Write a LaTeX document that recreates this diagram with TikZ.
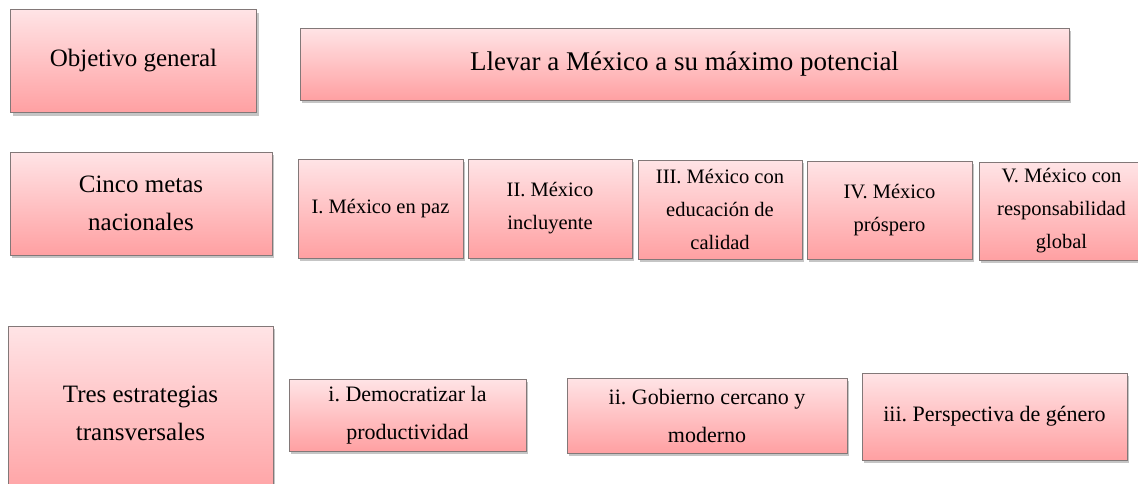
\documentclass[tikz,border=0pt]{standalone}
\usepackage{fontspec}
\setmainfont{Liberation Serif}
\frenchspacing
\usetikzlibrary{shadows,positioning}
\definecolor{rosaclaro}{RGB}{255,228,230}
\definecolor{rosaoscuro}{RGB}{255,160,162}
\definecolor{borde}{RGB}{130,120,120}

\tikzset{
  caja/.style={rectangle, draw=borde, line width=0.9pt, top color=rosaclaro,
    bottom color=rosaoscuro, align=center, inner sep=1pt,
    drop shadow={shadow xshift=2pt, shadow yshift=-3pt, opacity=0.45}},
  grande/.style={caja, font=\fontsize{25}{38}\selectfont},
  mediana/.style={caja, font=\fontsize{20.5}{33}\selectfont},
}

\begin{document}
\begin{tikzpicture}[x=1pt,y=-1pt]
  \clip (0,0) rectangle (1138,483);
  \fill[white] (0,0) rectangle (1138,483);
% Objetivo general
  \node[grande, minimum width=246pt, minimum height=103pt] (objetivo) at (133.5,61) {Objetivo general};
  \node[grande, font=\fontsize{27}{38}\selectfont, minimum width=769pt, minimum height=72pt] (potencial) at (684.5,64) {Llevar a México a su máximo potencial};
% Cinco metas nacionales
  \node[grande, minimum width=262pt, minimum height=103pt] (metas) at (141,203.5) {Cinco metas\\nacionales};
  \node[mediana, minimum width=165pt, minimum height=99pt] (meta1) at (380.5,208.5) {I. México en paz};
  \node[mediana, minimum width=164pt, minimum height=99pt] (meta2) at (550,208.5) {II. México\\incluyente};
  \node[mediana, minimum width=164pt, minimum height=99pt] (meta3) at (720,209.5) {III. México con\\educación de\\calidad};
  \node[mediana, minimum width=165pt, minimum height=98pt] (meta4) at (889.5,210) {IV. México\\próspero};
  \node[mediana, minimum width=165pt, minimum height=98pt] (meta5) at (1061.5,211) {V. México con\\responsabilidad\\global};
% Tres estrategias transversales
  \node[grande, minimum width=265pt, minimum height=175pt] (estrategias) at (140.5,413.5) {Tres estrategias\\transversales};
  \node[mediana, font=\fontsize{22}{38}\selectfont, minimum width=237pt, minimum height=72pt] (estr1) at (407.5,415) {i. Democratizar la\\productividad};
  \node[mediana, font=\fontsize{22}{38}\selectfont, minimum width=280pt, minimum height=75pt] (estr2) at (707,415.5) {ii. Gobierno cercano y\\moderno};
  \node[mediana, font=\fontsize{22}{38}\selectfont, minimum width=265pt, minimum height=87pt] (estr3) at (994.5,416.5) {iii. Perspectiva de género};
\end{tikzpicture}
\end{document}
